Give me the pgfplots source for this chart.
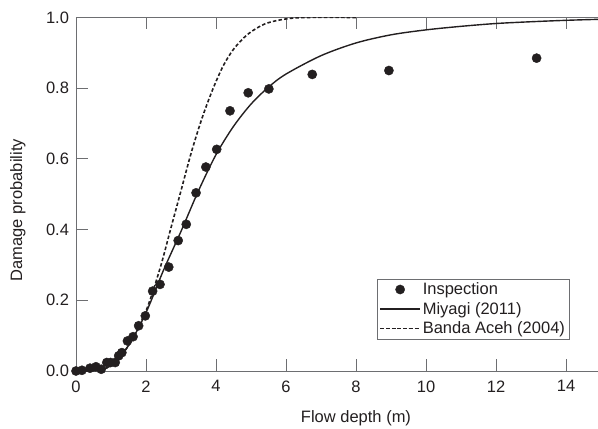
\documentclass[border=0pt]{standalone}
\usepackage{fontspec}
\setmainfont{Liberation Sans}
\usepackage{pgfplots}
\pgfplotsset{compat=1.18}
\definecolor{ink}{HTML}{231F20}
\definecolor{spine}{HTML}{6D6E71}
\newcommand\fs{\fontsize{16.5bp}{20bp}\selectfont}

\begin{document}
\begin{tikzpicture}
\begin{axis}[name=ax,
  scale only axis, width=560bp, height=353.5bp,
  xmin=0, xmax=16, ymin=0, ymax=1,
  xtick={0,2,...,14}, xticklabels={0,2,4,6,8,10,12,14},
  ytick={0,0.2,...,1.0}, yticklabels={0.0,0.2,0.4,0.6,0.8,1.0},
  tick align=inside, major tick length=12bp,
  xtick pos=both, ytick pos=left,
  axis line style={spine, line width=0.9bp},
  every tick/.style={spine, line width=0.9bp},
  tick label style={font=\fs, text=ink},
  xticklabel style={yshift=-6bp},
  yticklabel style={xshift=-3.5bp},
  xlabel={Flow depth (m)}, ylabel={Damage probability},
  label style={font=\fs, text=ink},
  xlabel style={at={(axis description cs:0.5,0)}, anchor=north, yshift=-36bp},
  ylabel style={at={(axis description cs:0,0.455)}, anchor=south, yshift=47bp},
  legend style={font=\fs, text=ink, draw=spine,
    at={(axis cs:14.09,0.0897)}, anchor=south east,
    inner sep=2bp, row sep=2bp, cells={anchor=west}},
  legend image code/.code={\draw[mark repeat=2,mark phase=2,#1] plot coordinates {(0cm,0cm) (0.7cm,0cm) (1.4cm,0cm)};},
]
\addplot[only marks, mark=*, mark size=4.6bp, ink, mark options={fill=ink, draw=ink}] coordinates {
(0.0,0.0) (0.17,0.002) (0.40,0.008) (0.57,0.012) (0.72,0.005) (0.88,0.024)
(0.99,0.024) (1.12,0.024) (1.22,0.043) (1.31,0.052) (1.47,0.085) (1.63,0.097)
(1.79,0.128) (1.98,0.156) (2.19,0.226) (2.40,0.245) (2.65,0.294) (2.92,0.369)
(3.15,0.415) (3.43,0.504) (3.71,0.577) (4.02,0.627) (4.40,0.736) (4.92,0.787)
(5.51,0.798) (6.75,0.839) (8.94,0.850) (13.16,0.885)
};
\addlegendentry{Inspection}
\addplot[ink, line width=1.4bp, smooth] coordinates {
(0,0) (0.5,0.001) (1.0,0.015) (1.5,0.072) (2.0,0.165) (2.5,0.285) (3.0,0.395)
(3.5,0.51) (4.0,0.612) (4.5,0.692) (5.0,0.755) (5.5,0.803) (6.0,0.84) (7.0,0.892)
(8.0,0.928) (9.0,0.951) (10.0,0.965) (11.0,0.975) (12.0,0.983) (13.0,0.988)
(14.0,0.992) (15.0,0.995) (16.0,0.997)
};
\addlegendentry{Miyagi (2011)}
\addplot[ink, line width=1.6bp, dash pattern=on 3.5bp off 2.2bp, smooth] coordinates {
(0,0) (0.5,0.001) (1.0,0.015) (1.5,0.072) (2.0,0.17) (2.4,0.29) (2.7,0.40)
(3.0,0.51) (3.3,0.62) (3.6,0.715) (3.9,0.795) (4.2,0.862) (4.5,0.91) (4.9,0.952)
(5.4,0.982) (6.0,0.996) (6.6,1.0) (8.0,1.0)
};
\addlegendentry{Banda Aceh (2004)}
\end{axis}
\pgfresetboundingbox
\path[use as bounding box] ([shift={(-76bp,-58bp)}]ax.south west) rectangle ([shift={(522bp,17.5bp)}]ax.north west);
\end{tikzpicture}
\end{document}
